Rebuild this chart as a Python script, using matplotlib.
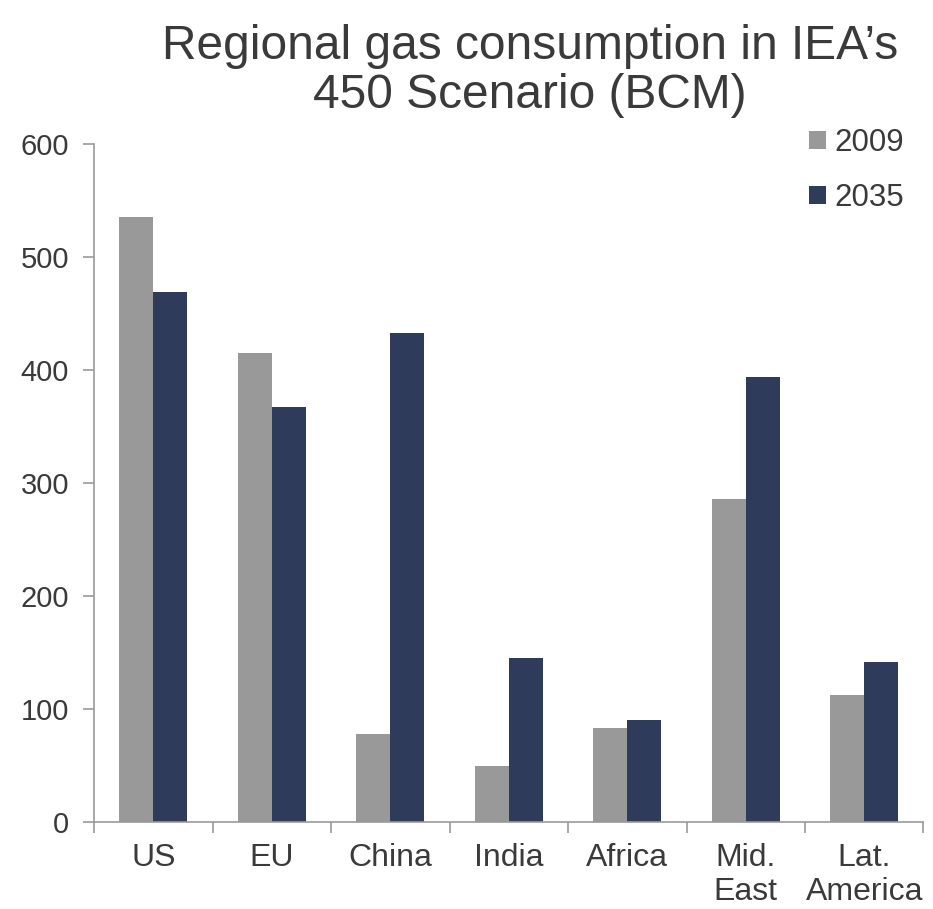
import numpy as np
import matplotlib.pyplot as plt

plt.rcParams['font.family'] = ['Liberation Sans', 'DejaVu Sans']

regions = ['US', 'EU', 'China', 'India', 'Africa', 'Mid.\nEast', 'Lat.\nAmerica']
gas_2009 = [535, 415, 78, 49, 83, 286, 112]
gas_2035 = [469, 367, 433, 145, 90, 394, 141]

couleur_2009 = '#999999'
couleur_2035 = '#2E3B5A'
texte = '#3A3A3A'

fig = plt.figure(figsize=(9.33, 9.09), dpi=100)
ax = fig.add_axes([0.1008, 0.096, 0.889, 0.7456])

x = np.arange(len(regions))
w = 0.287
ax.bar(x - w / 2, gas_2009, width=w, color=couleur_2009, label='2009')
ax.bar(x + w / 2, gas_2035, width=w, color=couleur_2035, label='2035')

ax.set_xlim(-0.5, len(regions) - 0.5)
ax.set_ylim(0, 600)
ax.set_yticks(range(0, 601, 100))
ax.set_xticks(x)
ax.set_xticklabels(regions, fontsize=23, color=texte, linespacing=1.18)
ax.set_xticks(np.arange(-0.5, len(regions), 1), minor=True)
ax.tick_params(axis='x', which='major', length=0, pad=15)
ax.tick_params(axis='x', which='minor', length=8, color='#999999', width=1.2)
ax.tick_params(axis='y', labelsize=21, labelcolor=texte, length=8,
               color='#999999', width=1.2, pad=10)

for s in ['top', 'right']:
    ax.spines[s].set_visible(False)
for s in ['left', 'bottom']:
    ax.spines[s].set_color('#999999')
    ax.spines[s].set_linewidth(1.2)

leg = ax.legend(loc='upper right', bbox_to_anchor=(1.01, 1.065), frameon=False,
                fontsize=22.5, handlelength=0.55, handleheight=0.55,
                handletextpad=0.25, labelspacing=0.8, labelcolor=texte)

fig.text(0.568, 0.922, "Regional gas consumption in IEA\u2019s\n450 Scenario (BCM)",
         ha='center', va='center', fontsize=34.5, color=texte, linespacing=1.1)

fig.savefig('out.png', dpi=100)
